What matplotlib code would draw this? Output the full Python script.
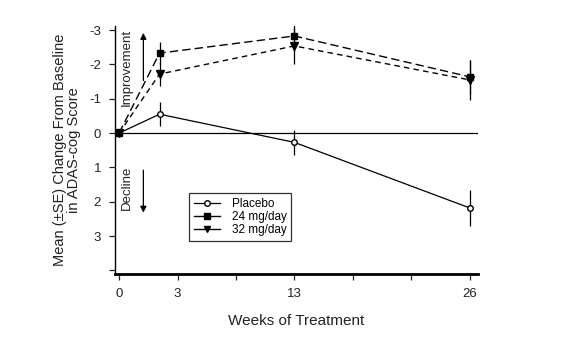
import numpy as np
import matplotlib
matplotlib.use("Agg")
import matplotlib.pyplot as plt
from matplotlib.lines import Line2D

plt.rcParams['font.family'] = ['Liberation Sans', 'DejaVu Sans']

# ADAS-cog change from baseline (negative = improvement)
weeks = [0, 3, 13, 26]
placebo = [0.0, -0.55, 0.27, 2.18]
placebo_se = [0.0, 0.35, 0.37, 0.52]
dose24 = [0.0, -2.33, -2.83, -1.64]
dose24_se = [0.0, 0.32, 0.45, 0.5]
dose32 = [0.0, -1.72, -2.54, -1.55]
dose32_se = [0.0, 0.35, 0.52, 0.58]

xtick_labels = ['0', '3', '', '13', '', '', '26']
ytick_vals = [-3, -2, -1, 0, 1, 2, 3, 4]
ytick_labels = ['-3', '-2', '-1', '0', '1', '2', '3', '']

fig = plt.figure(figsize=(5.84, 3.38), dpi=100)
ax = fig.add_axes([0.197, 0.189, 0.621, 0.734])

ax.axhline(0, color='black', lw=0.9, zorder=1)

ax.errorbar(weeks, placebo, yerr=placebo_se, color='black', lw=0.9, elinewidth=0.9,
            marker='o', mfc='white', mec='black', ms=4, capsize=0)
ax.errorbar(weeks, dose24, yerr=dose24_se, color='black', lw=1.0, elinewidth=0.9,
            ls=(0, (6, 3)), marker='s', ms=5, capsize=0)
ax.errorbar(weeks, dose32, yerr=dose32_se, color='black', lw=1.0, elinewidth=0.9,
            ls=(0, (4, 3)), marker='v', ms=5.5, capsize=0)

ax.set_xlim(-0.3, 26.6)
ax.set_ylim(4.11, -3.12)
ax.set_xticks(np.linspace(0, 26, 7))
ax.set_xticklabels(xtick_labels)
ax.set_yticks(ytick_vals)
ax.set_yticklabels(ytick_labels)

for side in ['top', 'right']:
    ax.spines[side].set_visible(False)
ax.spines['left'].set_linewidth(1.0)
ax.spines['bottom'].set_linewidth(2.0)
ax.tick_params(direction='out', length=4, width=0.9, labelsize=9.5, colors='#222222', pad=6)

ax.set_xlabel('Weeks of Treatment', fontsize=11, color='#222222', labelpad=10)
ax.set_ylabel('Mean (\u00b1SE) Change From Baseline\nin ADAS-cog Score', fontsize=10.5,
              color='#222222', labelpad=6, linespacing=1.0)

# direction hints
ax.text(0.55, -1.9, 'Improvement', rotation=90, ha='center', va='center', fontsize=9.5, color='#222222')
ax.annotate('', xy=(1.8, -3.0), xytext=(1.8, -1.45),
            arrowprops=dict(arrowstyle='-|>', color='black', lw=0.9, mutation_scale=9))
ax.text(0.55, 1.6, 'Decline', rotation=90, ha='center', va='center', fontsize=9.5, color='#222222')
ax.annotate('', xy=(1.8, 2.4), xytext=(1.8, 1.0),
            arrowprops=dict(arrowstyle='-|>', color='black', lw=0.9, mutation_scale=9))

handles = [
    Line2D([], [], color='black', lw=0.9, marker='o', mfc='white', mec='black', ms=4),
    Line2D([], [], color='black', lw=1.0, marker='s', ms=4.5),
    Line2D([], [], color='black', lw=1.0, marker='v', ms=5),
]
labels = ['Placebo', '24 mg/day', '32 mg/day']
leg = ax.legend(handles, labels, loc='lower left', bbox_to_anchor=(0.204, 0.133), fontsize=8.5,
                frameon=True, fancybox=False, edgecolor='black', handlelength=2.2,
                handletextpad=1.0, borderpad=0.4, labelspacing=0.1, borderaxespad=0)
leg.get_frame().set_linewidth(0.9)

fig.savefig('out.png', dpi=100)
